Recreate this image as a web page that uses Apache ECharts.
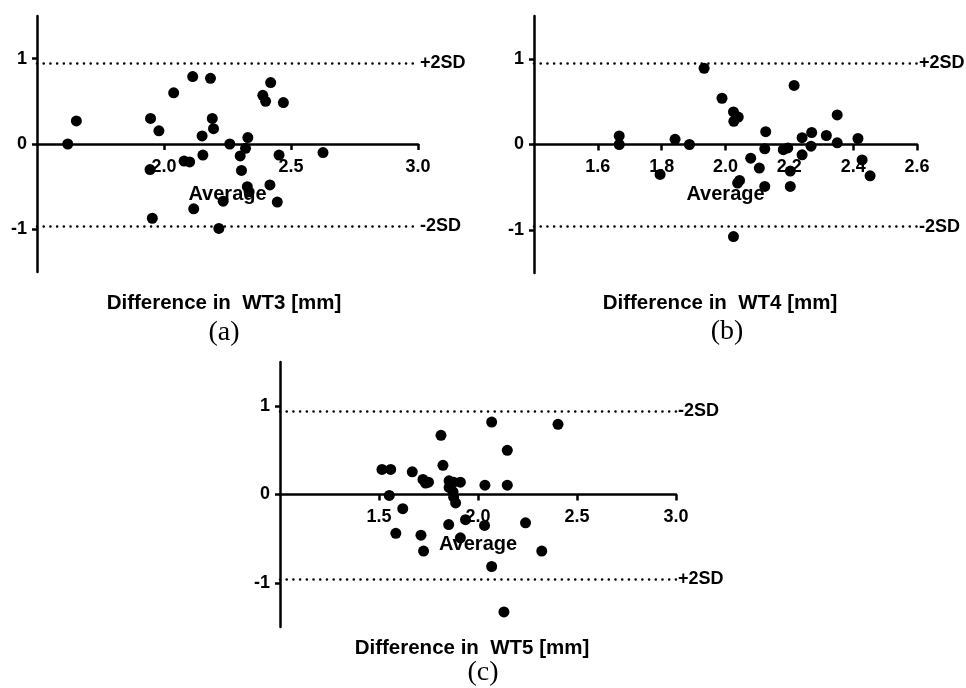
<!DOCTYPE html>
<html>
<head>
<meta charset="utf-8">
<script src="https://cdn.jsdelivr.net/npm/echarts@6/dist/echarts.min.js"></script>
<style>
html,body{margin:0;padding:0;background:#fff;}
#chart{width:966px;height:688px;}
</style>
</head>
<body>
<div id="chart"></div>
<script>
// Panel (a) WT3
const wt3Avg  = [1.621,1.655,1.947,1.980,2.038,2.113,2.183,2.190,2.195,2.150,2.153,2.079,2.101,1.945,1.954,2.117,2.216,2.233,2.259,2.300,2.305,2.321,2.330,2.328,2.335,2.389,2.400,2.420,2.470,2.453,2.417,2.446,2.626];
const wt3Diff = [0.00,0.27,0.30,0.155,0.60,0.79,0.77,0.30,0.18,0.095,-0.13,-0.20,-0.21,-0.30,-0.87,-0.76,-0.99,-0.67,0.00,-0.14,-0.31,-0.05,0.075,-0.50,-0.56,0.57,0.50,0.72,0.485,-0.13,-0.48,-0.68,-0.10];
// Panel (b) WT4
const wt4Avg  = [1.667,1.667,1.795,1.842,1.887,1.933,1.989,2.025,2.040,2.026,2.044,2.038,2.025,2.079,2.106,2.126,2.123,2.123,2.181,2.195,2.215,2.203,2.203,2.240,2.240,2.270,2.268,2.316,2.350,2.350,2.415,2.428,2.453];
const wt4Diff = [0.10,0.00,-0.35,0.06,0.00,0.89,0.54,0.38,0.32,0.27,-0.42,-0.45,-1.075,-0.16,-0.275,0.15,-0.05,-0.49,-0.06,-0.04,0.69,-0.31,-0.49,0.08,-0.12,0.14,-0.02,0.105,0.345,0.02,0.07,-0.18,-0.365];
// Panel (c) WT5
const wt5Avg  = [1.515,1.559,1.552,1.620,1.585,1.668,1.722,1.750,1.735,1.712,1.725,1.813,1.823,1.854,1.877,1.911,1.854,1.874,1.877,1.887,1.852,1.937,1.911,2.035,2.033,2.069,2.069,2.148,2.148,2.131,2.240,2.322,2.404];
const wt5Diff = [0.284,0.284,-0.01,-0.16,-0.44,0.257,0.17,0.14,0.13,-0.46,-0.64,0.67,0.33,0.155,0.14,0.14,0.08,0.03,-0.03,-0.095,-0.34,-0.285,-0.49,0.105,-0.35,0.82,-0.815,0.50,0.105,-1.33,-0.32,-0.64,0.795];

// Limits of agreement (upper line value, lower line value) and their labels
const limitsA = [0.95, -0.96];
const limitsB = [0.95, -0.96];
const limitsC = [0.94, -0.96];
const limitLabelsA = ['+2SD', '-2SD'];
const limitLabelsB = ['+2SD', '-2SD'];
const limitLabelsC = ['-2SD', '+2SD'];

// Axis ranges / ticks: [min, max, interval]
const xRangeA = [1.5, 3.0, 0.5];
const xRangeB = [1.4, 2.6, 0.2];
const xRangeC = [1.0, 3.0, 0.5];
const yRange = [-1.5, 1.5];
const yTicks = [-1, 0, 1];

const yTitles = ['Difference in  WT3 [mm]', 'Difference in  WT4 [mm]', 'Difference in  WT5 [mm]'];
const panelTags = ['(a)', '(b)', '(c)'];
const xName = 'Average';

const SANS = '"Liberation Sans", Arial, sans-serif';
const SERIF = '"Liberation Serif", "Times New Roman", serif';

const grids = [
  {left: 37, top: 16, width: 381, height: 256},
  {left: 534, top: 16, width: 383, height: 257},
  {left: 280, top: 362, width: 396, height: 265}
];

function xAxisCfg(i, r) {
  // y range is symmetric about 0, so the axis sits at the vertical middle of the grid (the zero line)
  return {
    gridIndex: i, type: 'value', min: r[0], max: r[1], interval: r[2],
    position: 'bottom', offset: -grids[i].height / 2,
    axisLine: {show: true, onZero: false, lineStyle: {color: '#000', width: 2.5}},
    axisTick: {show: true, inside: false, length: 6, lineStyle: {color: '#000', width: 2.5}},
    axisLabel: {showMinLabel: false, margin: 14, color: '#000', fontFamily: SANS, fontWeight: 'bold', fontSize: 18,
      formatter: v => v.toFixed(1)},
    splitLine: {show: false},
    name: xName, nameLocation: 'middle', nameGap: 40,
    nameTextStyle: {color: '#000', fontFamily: SANS, fontWeight: 'bold', fontSize: 20}
  };
}
function yAxisCfg(i) {
  return {
    gridIndex: i, type: 'value', min: yRange[0], max: yRange[1],
    axisLine: {show: true, onZero: false, lineStyle: {color: '#000', width: 2.5}},
    axisTick: {show: true, length: 5, customValues: yTicks, lineStyle: {color: '#000', width: 2.5}},
    axisLabel: {customValues: yTicks, margin: 10, color: '#000', fontFamily: SANS, fontWeight: 'bold', fontSize: 18},
    splitLine: {show: false}
  };
}
function seriesCfg(i, xs, ys, lims, labs) {
  return {
    type: 'scatter', xAxisIndex: i, yAxisIndex: i,
    symbol: 'circle', symbolSize: 11, z: 3,
    itemStyle: {color: '#000', opacity: 1},
    data: xs.map((x, k) => [x, ys[k]]),
    markLine: {
      silent: true, symbol: ['none', 'none'],
      lineStyle: {type: [0.01, 6.7], cap: 'round', color: '#000', width: 2.6, opacity: 1},
      label: {position: 'end', distance: 2, color: '#000', fontFamily: SANS, fontWeight: 'bold', fontSize: 18},
      data: lims.map((v, k) => ({yAxis: v, label: {formatter: labs[k]}}))
    }
  };
}
function textEl(t, x, y, font) {
  return {type: 'text', x: x, y: y, style: {text: t, align: 'center', verticalAlign: 'middle', font: font, fill: '#000'}};
}

const option = {
  animation: false,
  backgroundColor: '#fff',
  grid: grids,
  xAxis: [xAxisCfg(0, xRangeA), xAxisCfg(1, xRangeB), xAxisCfg(2, xRangeC)],
  yAxis: [yAxisCfg(0), yAxisCfg(1), yAxisCfg(2)],
  series: [
    seriesCfg(0, wt3Avg, wt3Diff, limitsA, limitLabelsA),
    seriesCfg(1, wt4Avg, wt4Diff, limitsB, limitLabelsB),
    seriesCfg(2, wt5Avg, wt5Diff, limitsC, limitLabelsC)
  ],
  graphic: [
    textEl(yTitles[0], 224, 303, 'bold 20.5px ' + SANS),
    textEl(yTitles[1], 720, 303, 'bold 20.5px ' + SANS),
    textEl(yTitles[2], 472, 648, 'bold 20.5px ' + SANS),
    textEl(panelTags[0], 224, 333, '28px ' + SERIF),
    textEl(panelTags[1], 727, 332, '28px ' + SERIF),
    textEl(panelTags[2], 483, 673, '28px ' + SERIF)
  ]
};
const chart = echarts.init(document.getElementById('chart'), null, {renderer: 'canvas'});
chart.setOption(option);
</script>
</body>
</html>
